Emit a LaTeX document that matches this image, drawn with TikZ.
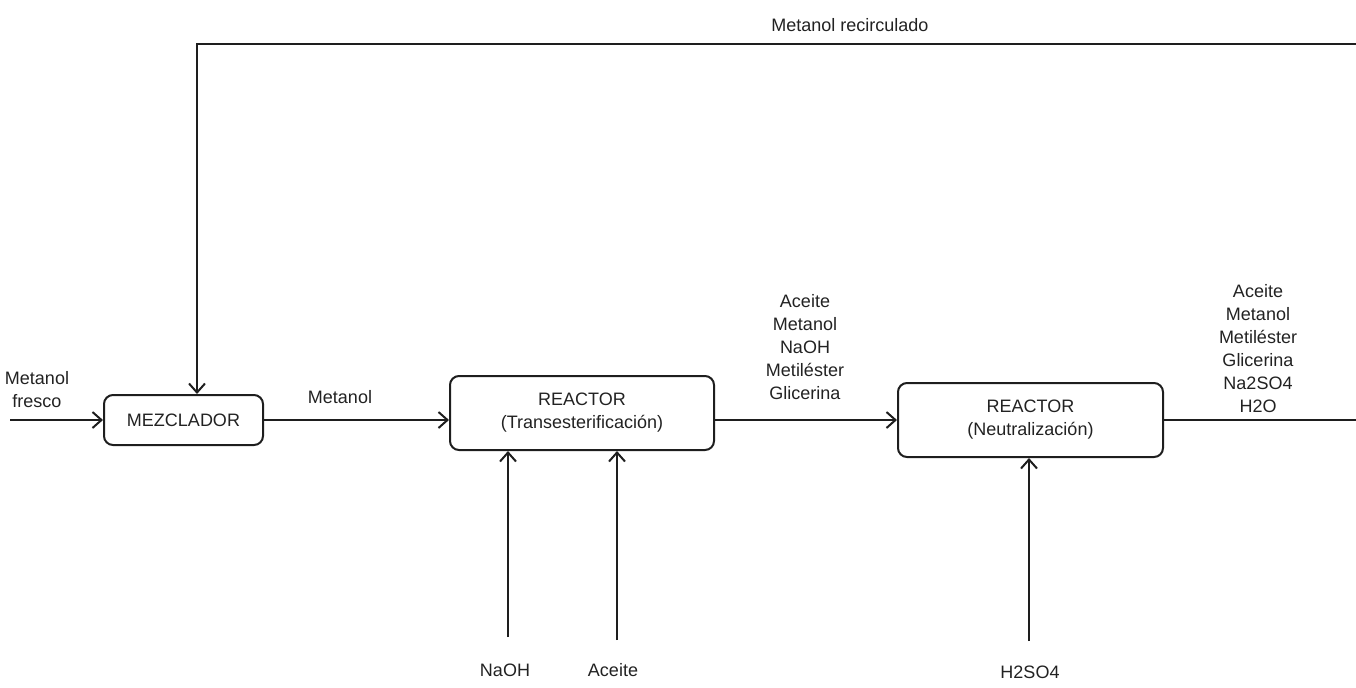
\documentclass[tikz,border=0pt]{standalone}
\usepackage{fontspec}
\setmainfont{Liberation Sans}
\usetikzlibrary{arrows.meta,positioning}
\definecolor{ln}{HTML}{1E1E1E}
\definecolor{tx}{HTML}{222222}
\tikzset{
  unit/.style={draw=ln,line width=1pt,rounded corners=4.5pt,align=center,text=tx,
    font=\fontsize{9}{11.5}\selectfont,inner sep=0pt},
  lbl/.style={align=center,text=tx,font=\fontsize{9}{11.5}\selectfont,inner sep=0pt},
  flow/.style={draw=ln,line width=1pt,-{Straight Barb[length=4.5pt,width=8pt,line width=1pt]}},
  plain/.style={draw=ln,line width=1pt}
}
\begin{document}
\begin{tikzpicture}[x=0.5pt,y=-0.5pt]
\useasboundingbox (0,0) rectangle (1356,687);
% units
\node[unit,minimum width=79.5pt,minimum height=25pt] (mez) at (183.5,420) {MEZCLADOR};
\node[unit,minimum width=132pt,minimum height=37pt] (rt) at (582,413) {REACTOR\\(Transesterificación)};
\node[unit,minimum width=132.5pt,minimum height=37pt] (rn) at (1030.5,420) {REACTOR\\(Neutralización)};
% free ends
\coordinate (fin) at (10,420);
\coordinate (recR) at (1356,44);
\coordinate (outR) at (1356,420);
\coordinate (naohS) at (508,637);
\coordinate (aceS) at (617,640);
\coordinate (hsS) at (1029,641);
% connectors
\draw[flow] (fin) -- (mez.west);
\draw[flow] (recR) -| ([xshift=6.75pt]mez.north);
\draw[flow] (mez.east) -- (mez.east -| rt.west);
\draw[flow] (rt.east |- mez.east) -- (rn.west |- mez.east);
\draw[plain] (rn.east |- mez.east) -- (outR);
\draw[flow] (naohS) -- (naohS |- rt.south);
\draw[flow] (aceS) -- (aceS |- rt.south);
\draw[flow] (hsS) -- (hsS |- rn.south);
% labels
\node[lbl] (lfresco) at (37,390) {Metanol\\fresco};
\node[lbl] (lmet) at (340,397) {Metanol};
\node[lbl] (lrec) at (850,25) {Metanol recirculado};
\node[lbl] (ls1) at (805,347) {Aceite\\Metanol\\NaOH\\Metiléster\\Glicerina};
\node[lbl] (ls2) at (1258,349) {Aceite\\Metanol\\Metiléster\\Glicerina\\Na2SO4\\H2O};
\node[lbl] (lnaoh) at (505,670) {NaOH};
\node[lbl] (lace) at (613,670) {Aceite};
\node[lbl] (lhs) at (1030,672) {H2SO4};
\end{tikzpicture}
\end{document}
